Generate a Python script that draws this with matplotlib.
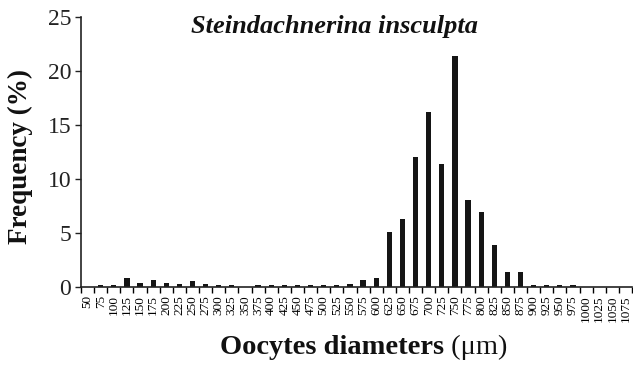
import matplotlib
matplotlib.use("Agg")
import matplotlib.pyplot as plt
import numpy as np

plt.rcParams['font.family'] = ['Liberation Serif', 'DejaVu Serif']

categories = [str(v) for v in range(50, 1100, 25)]
frequency = [0.0, 0.15, 0.15, 0.83, 0.4, 0.68, 0.4, 0.28, 0.52, 0.28,
             0.15, 0.15, 0.0, 0.15, 0.15, 0.15, 0.15, 0.15, 0.15, 0.15,
             0.28, 0.68, 0.8, 5.05, 6.34, 12.0, 16.25, 11.35, 21.4, 8.03,
             6.98, 3.88, 1.42, 1.42, 0.15, 0.15, 0.15, 0.15, 0.0, 0.0,
             0.0, 0.0]
title = "Steindachnerina insculpta"

W, H = 633, 365
fig = plt.figure(figsize=(W/100, H/100), dpi=100)
ax = fig.add_axes([81/W, 1-287/H, 551/W, 270/H])

x = np.arange(len(categories))
ax.bar(x, frequency, width=0.4, color='#151515')
ax.set_xlim(-0.5, len(categories)-0.5)
ax.set_ylim(0, 25)
ax.set_yticks([0, 5, 10, 15, 20, 25])
ax.tick_params(axis='y', labelsize=17, length=4, width=1, direction='out', pad=3, colors='#222222')
ax.set_xticks(x)
ax.set_xticklabels(categories, rotation=90, fontsize=9.5)
ax.tick_params(axis='x', which='major', length=0, pad=6)
ax.set_xticks(np.arange(-0.5, len(categories)), minor=True)
ax.tick_params(axis='x', which='minor', length=4, width=1, direction='out')
for s in ['top', 'right']:
    ax.spines[s].set_visible(False)
for s in ['left', 'bottom']:
    ax.spines[s].set_linewidth(1.2)
    ax.spines[s].set_color('#222222')

ax.text(0.46, 0.963, title, transform=ax.transAxes, ha='center', va='center',
        fontsize=19, fontweight='bold', fontstyle='italic', color='#111111')

fig.text(20/W, 1-157/H, "Frequency (%)", rotation=90, ha='center', va='center',
         fontsize=19.5, fontweight='bold', color='#111111')

t = fig.text(220/W, 1-347/H, "Oocytes diameters", ha='left', va='center',
             fontsize=20.5, fontweight='bold', color='#111111')
ax.annotate(" (μm)", xy=(1, 0), xycoords=t, ha='left', va='bottom',
            fontsize=20.5, color='#111111')

fig.savefig("out.png", dpi=100, facecolor='white')
